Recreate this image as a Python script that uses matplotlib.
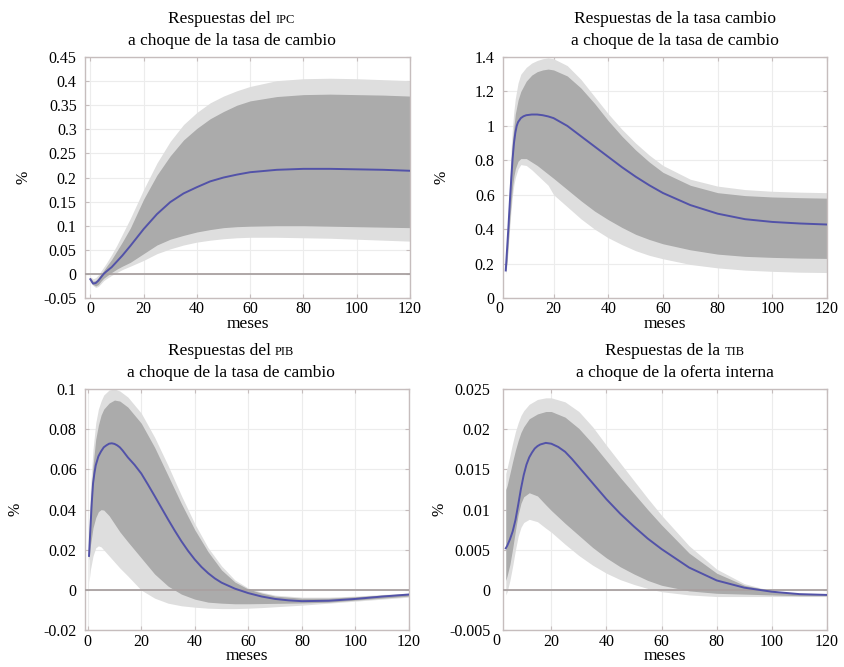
import numpy as np
import matplotlib
matplotlib.use("Agg")
import matplotlib.pyplot as plt

plt.rcParams['font.family'] = ['Liberation Serif', 'DejaVu Serif']
plt.rcParams['axes.unicode_minus'] = False

# --- IPC response (top left) ---
ipc_m = [0, 1, 2, 3, 4, 5, 6, 8, 10, 12, 15, 20, 25, 30, 35, 40, 45, 50, 55, 60, 70, 80, 90, 100, 110, 120]
ipc_mid = [-0.011, -0.020, -0.019, -0.014, -0.007, 0.0, 0.005, 0.014, 0.026, 0.038, 0.058, 0.093, 0.124, 0.149,
           0.167, 0.180, 0.192, 0.200, 0.206, 0.211, 0.216, 0.218, 0.218, 0.217, 0.216, 0.214]
ipc_out_hi = [-0.006, -0.010, -0.008, -0.002, 0.006, 0.014, 0.022, 0.040, 0.060, 0.082, 0.115, 0.175, 0.230, 0.275,
              0.310, 0.335, 0.355, 0.369, 0.380, 0.389, 0.401, 0.405, 0.406, 0.405, 0.403, 0.401]
ipc_in_hi = [-0.008, -0.015, -0.014, -0.008, 0.0, 0.007, 0.015, 0.030, 0.048, 0.066, 0.095, 0.155, 0.205, 0.245,
             0.278, 0.302, 0.322, 0.337, 0.350, 0.359, 0.368, 0.372, 0.373, 0.372, 0.371, 0.369]
ipc_in_lo = [-0.014, -0.022, -0.025, -0.022, -0.015, -0.009, -0.005, 0.003, 0.010, 0.016, 0.024, 0.042, 0.060, 0.072,
             0.080, 0.087, 0.092, 0.096, 0.098, 0.099, 0.100, 0.100, 0.099, 0.098, 0.097, 0.096]
ipc_out_lo = [-0.016, -0.024, -0.028, -0.026, -0.020, -0.014, -0.010, -0.003, 0.003, 0.009, 0.016, 0.028, 0.042, 0.052,
              0.060, 0.066, 0.070, 0.073, 0.075, 0.076, 0.076, 0.075, 0.074, 0.072, 0.070, 0.068]

# --- exchange rate response (top right) ---
tc_line_m = [2.5, 3, 3.5, 4, 4.5, 5, 5.5, 6, 6.5, 7, 8, 9, 10, 12, 14, 16, 18, 20, 25, 30, 35, 40, 45, 50, 55, 60,
             70, 80, 90, 100, 110, 120]
tc_mid = [0.16, 0.29, 0.42, 0.56, 0.69, 0.81, 0.9, 0.96, 1.0, 1.022, 1.045, 1.056, 1.062, 1.066, 1.066, 1.062, 1.055,
          1.045, 1.0, 0.94, 0.88, 0.82, 0.76, 0.705, 0.655, 0.61, 0.54, 0.49, 0.458, 0.442, 0.433, 0.427]
tc_m = [2.5, 3, 3.5, 4, 4.5, 5, 5.5, 6, 7, 8, 10, 12, 14, 16, 18, 20, 25, 30, 35, 40, 45, 50, 55, 60, 70, 80, 90,
        100, 110, 120]
tc_out_hi = [0.19, 0.35, 0.53, 0.72, 0.88, 1.0, 1.09, 1.16, 1.25, 1.3, 1.34, 1.365, 1.38, 1.39, 1.395, 1.39, 1.35,
             1.27, 1.17, 1.07, 0.98, 0.9, 0.83, 0.77, 0.69, 0.65, 0.63, 0.62, 0.615, 0.612]
tc_in_hi = [0.18, 0.32, 0.49, 0.65, 0.8, 0.92, 1.0, 1.07, 1.15, 1.2, 1.26, 1.295, 1.315, 1.325, 1.33, 1.325, 1.29,
            1.22, 1.13, 1.03, 0.94, 0.86, 0.79, 0.73, 0.655, 0.612, 0.595, 0.587, 0.583, 0.58]
tc_in_lo = [0.15, 0.22, 0.34, 0.46, 0.56, 0.65, 0.71, 0.75, 0.795, 0.81, 0.81, 0.79, 0.77, 0.745, 0.72, 0.695, 0.63,
            0.565, 0.505, 0.455, 0.41, 0.37, 0.34, 0.315, 0.28, 0.255, 0.242, 0.236, 0.232, 0.23]
tc_out_lo = [0.14, 0.2, 0.31, 0.42, 0.52, 0.6, 0.66, 0.7, 0.75, 0.775, 0.77, 0.745, 0.715, 0.685, 0.655, 0.6, 0.53,
             0.46, 0.4, 0.35, 0.31, 0.275, 0.248, 0.228, 0.195, 0.175, 0.162, 0.155, 0.15, 0.148]

# --- PIB response (bottom left) ---
pib_line_m = [0.5, 1, 1.5, 2, 2.5, 3, 4, 5, 6, 7, 8, 9, 10, 11, 12, 13, 15, 17.5, 20, 22.5, 25, 27.5, 30, 32.5, 35,
              37.5, 40, 42.5, 45, 47.5, 50, 55, 60, 65, 70, 75, 80, 90, 100, 110, 120]
pib_mid = [0.017, 0.03, 0.043, 0.053, 0.058, 0.062, 0.0665, 0.069, 0.071, 0.072, 0.0728, 0.073, 0.0727, 0.072,
           0.071, 0.0695, 0.066, 0.0623, 0.058, 0.0525, 0.0468, 0.041, 0.0352, 0.0296, 0.0243, 0.0195, 0.0152,
           0.0115, 0.0084, 0.0058, 0.0037, 0.0007, -0.0015, -0.0032, -0.0044, -0.0051, -0.0055, -0.0053, -0.0044,
           -0.0032, -0.0022]
pib_m = [0.5, 1, 2, 3, 4, 5, 6, 8, 10, 12, 15, 20, 25, 30, 35, 40, 45, 50, 55, 60, 65, 70, 80, 90, 100, 110, 120]
pib_out_hi = [0.034, 0.05, 0.07, 0.083, 0.09, 0.094, 0.097, 0.0995, 0.1, 0.099, 0.096, 0.088, 0.076, 0.062, 0.047,
              0.033, 0.021, 0.012, 0.005, 0.001, -0.001, -0.0025, -0.0035, -0.0035, -0.003, -0.0022, -0.0015]
pib_in_hi = [0.028, 0.042, 0.062, 0.075, 0.082, 0.087, 0.09, 0.093, 0.0945, 0.094, 0.091, 0.083, 0.071, 0.057,
             0.043, 0.03, 0.019, 0.01, 0.004, 0.0005, -0.0015, -0.003, -0.004, -0.004, -0.0033, -0.0025, -0.0018]
pib_in_lo = [0.015, 0.022, 0.031, 0.036, 0.039, 0.04, 0.0398, 0.037, 0.033, 0.029, 0.024, 0.016, 0.008, 0.002,
             -0.002, -0.0045, -0.006, -0.0065, -0.0068, -0.0068, -0.0067, -0.0066, -0.0064, -0.006, -0.005, -0.004, -0.003]
pib_out_lo = [0.004, 0.01, 0.017, 0.021, 0.022, 0.0215, 0.02, 0.017, 0.014, 0.011, 0.007, 0.0, -0.004, -0.0065,
              -0.0078, -0.0085, -0.009, -0.0092, -0.0092, -0.009, -0.0087, -0.0083, -0.0075, -0.0065, -0.0055,
              -0.0045, -0.0035]

# --- TIB response (bottom right) ---
tib_line_m = [3.5, 4, 5, 6, 7, 8, 9, 10, 11, 12, 13, 14, 15, 16, 18, 20, 22.5, 25, 27.5, 30, 35, 40, 45, 50, 55, 60,
              70, 80, 90, 100, 110, 120]
tib_mid = [0.0052, 0.0055, 0.0063, 0.0073, 0.0087, 0.0106, 0.0126, 0.0143, 0.0156, 0.0165, 0.0171, 0.0176, 0.0179,
           0.0181, 0.0183, 0.0182, 0.0178, 0.0172, 0.0163, 0.0153, 0.0133, 0.0113, 0.0095, 0.0079, 0.0064, 0.0051,
           0.0028, 0.0012, 0.0003, -0.0002, -0.0005, -0.0006]
tib_m = [3.5, 4, 5, 6, 7, 8, 9, 10, 12, 15, 18, 20, 25, 30, 35, 40, 45, 50, 55, 60, 70, 80, 90, 100, 110, 120]
tib_out_hi = [0.0145, 0.0152, 0.0167, 0.0183, 0.0197, 0.0208, 0.0217, 0.0223, 0.0231, 0.0237, 0.0239, 0.0239, 0.0234,
              0.0222, 0.0203, 0.018, 0.0158, 0.0136, 0.0114, 0.0093, 0.0055, 0.0026, 0.0008, -0.0001, -0.0005, -0.0006]
tib_in_hi = [0.0125, 0.013, 0.0145, 0.016, 0.0174, 0.0186, 0.0196, 0.0203, 0.0213, 0.0219, 0.0222, 0.0222, 0.0215,
             0.0201, 0.0182, 0.0161, 0.014, 0.012, 0.01, 0.0081, 0.0046, 0.0021, 0.0006, -0.0001, -0.0005, -0.0006]
tib_in_lo = [0.0012, 0.0018, 0.0032, 0.0052, 0.0074, 0.0094, 0.0108, 0.0116, 0.0121, 0.0117, 0.0106, 0.0099, 0.0083,
             0.0068, 0.0053, 0.004, 0.0029, 0.002, 0.0012, 0.0006, -0.0001, -0.0004, -0.0005, -0.0006, -0.0007, -0.0007]
tib_out_lo = [-0.0006, -0.0002, 0.0012, 0.003, 0.005, 0.0067, 0.0078, 0.0084, 0.0088, 0.0085, 0.0077, 0.0072, 0.0057,
              0.0043, 0.0031, 0.0021, 0.0013, 0.0007, 0.0002, -0.0002, -0.0006, -0.0008, -0.0008, -0.0008, -0.0008,
              -0.0008]

OUTER = '#dedede'
INNER = '#ababab'
LINE = '#5252a8'
SPINE = '#c6bdbd'
FS = 11.5
TFS = 12.5

fig = plt.figure(figsize=(8.45, 6.67), dpi=100)
renderer = fig.canvas.get_renderer()


def title(ax, pre, sc, line2, dx):
    ax.annotate(line2, xy=(0.5, 1), xycoords='axes fraction', xytext=(dx, 12),
                textcoords='offset pixels', ha='center', va='baseline', fontsize=TFS)
    t1 = ax.annotate(pre, xy=(0.5, 1), xycoords='axes fraction', xytext=(0, 34),
                     textcoords='offset pixels', ha='left', va='baseline', fontsize=TFS)
    w1 = t1.get_window_extent(renderer).width
    if sc:
        t2 = ax.annotate(sc, xy=(0.5, 1), xycoords='axes fraction', xytext=(0, 34),
                         textcoords='offset pixels', ha='left', va='baseline', fontsize=9)
        w2 = t2.get_window_extent(renderer).width
        gap = 4
        total = w1 + gap + w2
        t1.set_position((dx - total / 2, 34))
        t2.set_position((dx - total / 2 + w1 + gap, 34))
    else:
        t1.set_position((dx - w1 / 2, 34))


def panel(rect, lm, mid, m, olo, ohi, ilo, ihi, xlim, ylim, yticks, zero, lab_x, extra_zero, ypad=6):
    ax = fig.add_axes(rect)
    ax.fill_between(m, olo, ohi, color=OUTER, lw=0, zorder=1)
    ax.fill_between(m, ilo, ihi, color=INNER, lw=0, zorder=2)
    if zero:
        ax.axhline(0, color='#a9a1a1', lw=1.3, zorder=3)
    ax.plot(lm, mid, color=LINE, lw=1.4, zorder=4)
    ax.set_xlim(xlim)
    ax.set_ylim(ylim)
    ax.set_xticks([t for t in range(0, 121, 20) if t >= xlim[0]])
    ax.set_yticks(yticks)
    ax.set_yticklabels(['%g' % round(v, 4) for v in yticks])
    ax.grid(True, color='#ececec', lw=0.8, zorder=0)
    ax.set_axisbelow(True)
    for s in ax.spines.values():
        s.set_color(SPINE)
        s.set_linewidth(1.0)
    ax.tick_params(direction='in', length=3, color=SPINE, top=True, right=True,
                   labelsize=FS, pad=ypad)
    ax.tick_params(axis='x', pad=2.5)
    ax.set_xlabel('meses', fontsize=12.5, labelpad=-1)
    ax.set_ylabel('%', fontsize=FS)
    ax.yaxis.set_label_coords(lab_x, 0.5)
    if extra_zero:
        # "0" label sits left of the axis start
        ax.annotate('0', xy=(0, 0), xycoords=ax.get_xaxis_transform(), xytext=(0, -3),
                    textcoords='offset pixels', ha='center', va='top', fontsize=FS,
                    annotation_clip=False)
    return ax


ax1 = panel([0.1006, 0.5532, 0.3846, 0.3613], ipc_m, ipc_mid, ipc_m, ipc_out_lo, ipc_out_hi, ipc_in_lo, ipc_in_hi,
            (-2, 120), (-0.05, 0.45), np.arange(-0.05, 0.451, 0.05), True, -0.165, False)
title(ax1, 'Respuestas del', 'IPC', 'a choque de la tasa de cambio', -16)

ax2 = panel([0.5953, 0.5532, 0.3834, 0.3613], tc_line_m, tc_mid, tc_m, tc_out_lo, tc_out_hi, tc_in_lo, tc_in_hi,
            (1.5, 120), (0, 1.4), np.arange(0, 1.41, 0.2), False, -0.165, True)
title(ax2, 'Respuestas de la tasa cambio', '', 'a choque de la tasa de cambio', 10)

ax3 = panel([0.1006, 0.055, 0.3834, 0.3618], pib_line_m, pib_mid, pib_m, pib_out_lo, pib_out_hi, pib_in_lo,
            pib_in_hi, (-1, 120), (-0.02, 0.1), np.arange(-0.02, 0.101, 0.02), True, -0.19, False)
title(ax3, 'Respuestas del', 'PIB', 'a choque de la tasa de cambio', -16)

ax4 = panel([0.5953, 0.055, 0.3834, 0.3618], tib_line_m, tib_mid, tib_m, tib_out_lo, tib_out_hi, tib_in_lo,
            tib_in_hi, (2.5, 120), (-0.005, 0.025), np.arange(-0.005, 0.0251, 0.005), True, -0.17, True, ypad=9)
title(ax4, 'Respuestas de la', 'TIB', 'a choque de la oferta interna', 10)

fig.savefig('out.png', dpi=100)
